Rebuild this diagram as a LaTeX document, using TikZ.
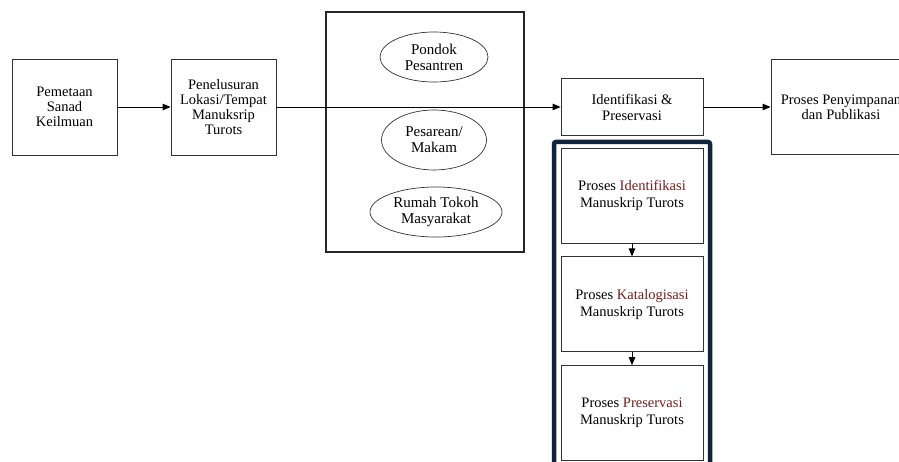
\documentclass[tikz,border=0pt]{standalone}
\usepackage{fontspec}
\setmainfont{Liberation Serif}
\usetikzlibrary{arrows.meta,positioning,shapes.geometric}
\definecolor{merahtua}{RGB}{122,28,28}
\definecolor{bingkai}{RGB}{16,36,62}

\begin{document}
\begin{tikzpicture}[x=1pt, y=-1pt, ->, >={Triangle[length=8pt,width=6.5pt]}, line width=0.9pt, node distance=13pt]
\tikzstyle{kotak}=[draw=black!80, line width=0.8pt, align=center, inner sep=2pt, font=\fontsize{14.5}{15}\selectfont]
\tikzstyle{proses}=[kotak, minimum width=142pt, minimum height=95pt, font=\fontsize{14.5}{17}\selectfont]
\tikzstyle{lonjong}=[ellipse, draw=black!80, line width=0.7pt, align=center, inner sep=0pt, font=\fontsize{15}{16}\selectfont]
\useasboundingbox (0,0) rectangle (899,462);

% alur utama
\node[kotak, minimum width=105pt, minimum height=96pt] (pemetaan) at (64.5,107) {Pemetaan\\Sanad\\Keilmuan};
\node[kotak, minimum width=105pt, minimum height=96pt] (penelusuran) at (223.5,107) {Penelusuran\\Lokasi/Tempat\\Manuksrip\\Turots};
\node[draw=black!85, line width=1.2pt, minimum width=198pt, minimum height=240pt] (lokasi) at (425,132) {};
\node[lonjong, minimum width=108pt, minimum height=50pt] (pondok) at (434,57) {Pondok\\Pesantren};
\node[lonjong, minimum width=105pt, minimum height=60pt] (makam) at (434,140) {Pesarean/\\Makam};
\node[lonjong, minimum width=132pt, minimum height=50pt] (rumah) at (436,212) {Rumah Tokoh\\Masyarakat};
\node[kotak, minimum width=142pt, minimum height=57pt, font=\fontsize{14.5}{16}\selectfont] (identifikasi) at (632,107) {Identifikasi \&\\Preservasi};
\node[kotak, minimum width=140pt, minimum height=95pt] (simpan) at (841,107) {Proses Penyimpanan\\dan Publikasi};

% rincian proses
\draw[-, bingkai, line width=4.5pt, rounded corners=2pt] (554,475) -- (554,142) -- (710,142) -- (710,475);
\node[proses] (prosesA) at (632,195.5) {Proses {\color{merahtua}Identifikasi}\\Manuskrip Turots};
\node[proses] (prosesB) [below=of prosesA] {Proses {\color{merahtua}Katalogisasi}\\Manuskrip Turots};
\node[proses] (prosesC) [below=of prosesB] {Proses {\color{merahtua}Preservasi}\\Manuskrip Turots};

\path
(pemetaan) edge (penelusuran)
(penelusuran) edge (identifikasi)
(identifikasi) edge (simpan)
(prosesA) edge (prosesB)
(prosesB) edge (prosesC);
\end{tikzpicture}
\end{document}
